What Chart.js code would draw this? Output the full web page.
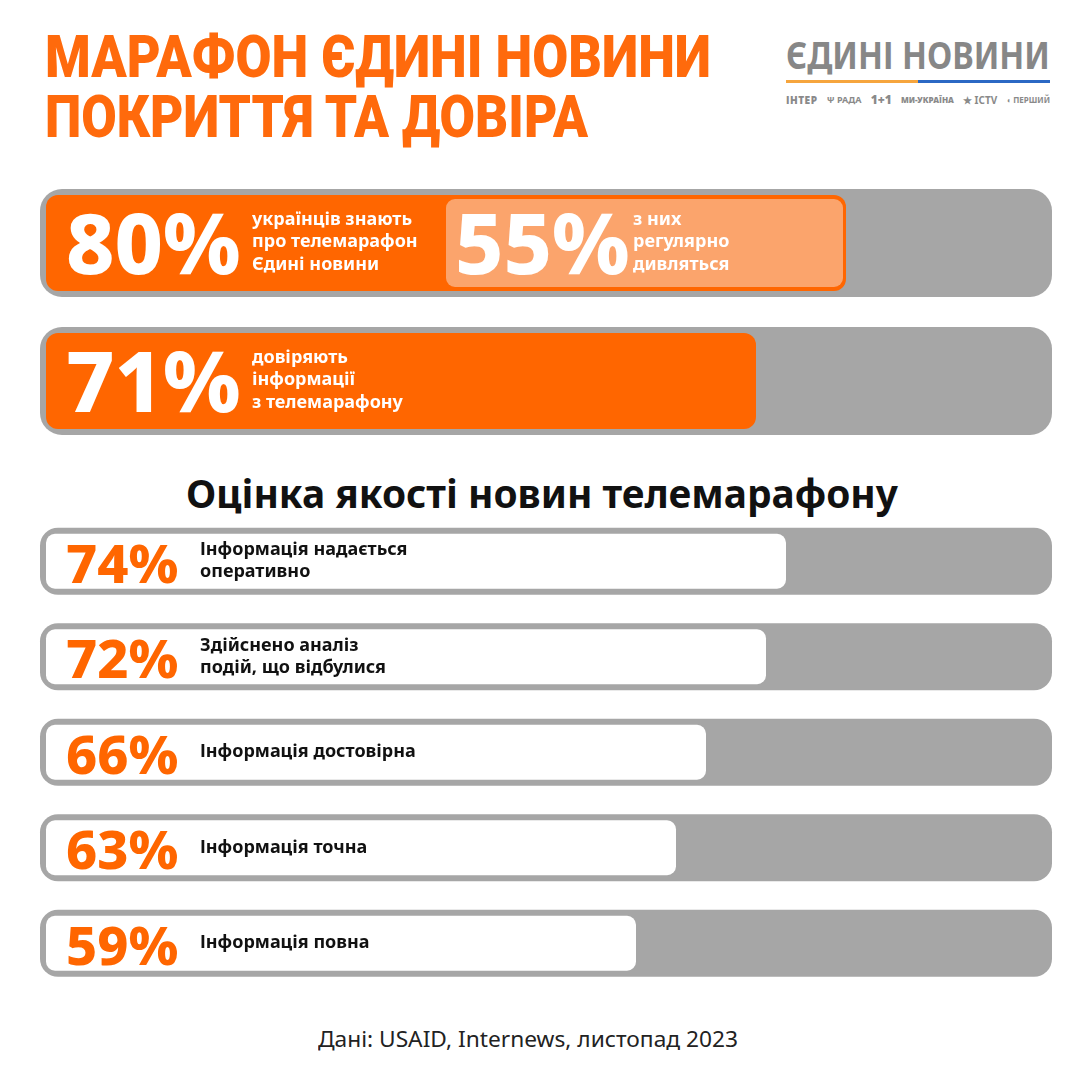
<!DOCTYPE html>
<html lang="uk">
<head>
<meta charset="utf-8">
<title>Марафон Єдині новини</title>
<script src="https://cdn.jsdelivr.net/npm/chart.js@4.4.1/dist/chart.umd.min.js"></script>
<style>
  html, body { margin: 0; padding: 0; }
  body { width: 1080px; height: 1080px; background: #fff; position: relative; overflow: hidden; font-family: "Noto Sans", sans-serif; }
  .fit { display: inline-block; white-space: nowrap; transform-origin: 0 0; }
  #title { position: absolute; left: 45px; top: 27px; color: #ff6a0c; font-family: Roboto, sans-serif; font-weight: 900; font-size: 59px; line-height: 60px; }
  #title .fit { display: block; width: max-content; }
  #logo { position: absolute; left: 786px; top: 30px; width: 264px; }
  #logo .name { color: #878787; font-weight: 700; font-size: 37px; line-height: 50px; }
  #logo .line { height: 3px; background: linear-gradient(to right, #f6a53d 0 50%, #2b68c4 50% 100%); }
  #logo .channels { margin-top: 8px; display: flex; justify-content: space-between; align-items: center; color: #8a8a8a; font-size: 9px; font-weight: 700; white-space: nowrap; }
  #topWrap { position: absolute; left: 0; top: 160px; width: 1080px; height: 300px; }
  #subtitle { position: absolute; left: 186px; top: 467px; font-weight: 700; font-size: 39px; line-height: 52px; color: #111; }
  #qualityWrap { position: absolute; left: 0; top: 500px; width: 1080px; height: 500px; }
  #source { position: absolute; left: 318px; top: 1022px; font-size: 22px; line-height: 32px; color: #222; }
</style>
</head>
<body>
<div id="title"><span class="fit" data-w="666">МАРАФОН ЄДИНІ НОВИНИ</span><span class="fit" data-w="543">ПОКРИТТЯ ТА ДОВІРА</span></div>
<div id="logo">
  <div class="name"><span class="fit" data-w="264">ЄДИНІ НОВИНИ</span></div>
  <div class="line"></div>
  <div class="channels">
    <span style="font-weight:900;font-size:10px;letter-spacing:0.5px">ІНТЕР</span>
    <span>Ψ РАДА</span>
    <span style="font-size:12px;font-weight:900">1+1</span>
    <span style="font-size:8px;font-weight:900">МИ-УКРАЇНА</span>
    <span style="font-size:10px">★ ICTV</span>
    <span style="font-size:8px">◖ ПЕРШИЙ</span>
  </div>
</div>
<div id="topWrap"><canvas id="topChart"></canvas></div>
<div id="subtitle"><span class="fit" data-w="712">Оцінка якості новин телемарафону</span></div>
<div id="qualityWrap"><canvas id="qualityChart"></canvas></div>
<div id="source"><span class="fit" data-w="420">Дані: USAID, Internews, листопад 2023</span></div>

<script>
// values
const topNames = ['знають', 'довіряють'];
const topValues = [80, 71];
const topLabels = [
    ['українців знають', 'про телемарафон', 'Єдині новини'],
    ['довіряють', 'інформації', 'з телемарафону']
];
const watchValue = 55;
const watchRange = [39.7, 80];
const watchLabel = ['з них', 'регулярно', 'дивляться'];

const qualityNames = ['оперативно', 'аналіз', 'достовірна', 'точна', 'повна'];
const qualityValues = [74, 72, 66, 63, 59];
const qualityLabels = [
    ['Інформація надається', 'оперативно'],
    ['Здійснено аналіз', 'подій, що відбулися'],
    ['Інформація достовірна'],
    ['Інформація точна'],
    ['Інформація повна']
];
const fullScale = 100;

const ORANGE = '#ff6600';
const LIGHT_ORANGE = '#fba46c';
const TRACK = '#a6a6a6';
const FONT = '"Noto Sans", sans-serif';

Chart.defaults.font.family = FONT;

// squeeze or stretch headline text to the width it has in the layout
document.querySelectorAll('.fit').forEach(function (el) {
    var target = +el.dataset.w;
    var w = el.getBoundingClientRect().width;
    if (w > 0) el.style.transform = 'scaleX(' + (target / w) + ')';
});

function bigNumber(ctx, text, x, cy, font) {
    ctx.font = font;
    ctx.textAlign = 'left';
    ctx.textBaseline = 'alphabetic';
    var m = ctx.measureText(text);
    ctx.fillText(text, x, cy + m.actualBoundingBoxAscent / 2);
}

function textLines(ctx, lines, x, cy, font, step) {
    ctx.font = font;
    ctx.textAlign = 'left';
    ctx.textBaseline = 'middle';
    var start = cy - (lines.length - 1) * step / 2;
    lines.forEach(function (line, i) {
        ctx.fillText(line, x, start + i * step);
    });
}

const topText = {
    id: 'topText',
    afterDatasetsDraw(chart) {
        const ctx = chart.ctx;
        const x0 = chart.scales.x.left;
        ctx.save();
        ctx.fillStyle = '#fff';
        chart.getDatasetMeta(1).data.forEach(function (bar, i) {
            bigNumber(ctx, topValues[i] + '%', x0 + 20, bar.y, '800 84px ' + FONT);
            textLines(ctx, topLabels[i], x0 + 206, bar.y - 1, '700 18px ' + FONT, 22.5);
        });
        const w = chart.getDatasetMeta(2).data[0];
        const wx = Math.min(w.x, w.base);
        bigNumber(ctx, watchValue + '%', wx + 12, w.y, '800 84px ' + FONT);
        textLines(ctx, watchLabel, wx + 190, w.y - 1, '700 18px ' + FONT, 22.5);
        ctx.restore();
    }
};

const qualityText = {
    id: 'qualityText',
    afterDatasetsDraw(chart) {
        const ctx = chart.ctx;
        const x0 = chart.scales.x.left;
        ctx.save();
        chart.getDatasetMeta(1).data.forEach(function (bar, i) {
            ctx.fillStyle = ORANGE;
            bigNumber(ctx, qualityValues[i] + '%', x0 + 20, bar.y + 2, '800 54px ' + FONT);
            ctx.fillStyle = '#111';
            textLines(ctx, qualityLabels[i], x0 + 154, bar.y, '700 18px ' + FONT, 22);
        });
        ctx.restore();
    }
};

function baseOptions(padding) {
    return {
        indexAxis: 'y',
        responsive: true,
        maintainAspectRatio: false,
        animation: false,
        events: [],
        layout: { padding: padding },
        scales: {
            x: { display: false, min: 0, max: fullScale },
            y: { display: false }
        },
        plugins: { legend: { display: false }, tooltip: { enabled: false } }
    };
}

new Chart(document.getElementById('topChart'), {
    type: 'bar',
    data: {
        labels: topNames,
        datasets: [{
            data: topValues.map(function () { return fullScale; }),
            backgroundColor: TRACK,
            barThickness: 96,
            inflateAmount: 6,
            borderRadius: 22,
            borderSkipped: false,
            grouped: false,
            clip: false,
            order: 3
        }, {
            data: topValues,
            backgroundColor: ORANGE,
            barThickness: 96,
            inflateAmount: 0,
            borderRadius: 12,
            borderSkipped: false,
            grouped: false,
            clip: false,
            order: 2
        }, {
            data: [watchRange, null],
            backgroundColor: LIGHT_ORANGE,
            barThickness: 94,
            inflateAmount: -3,
            borderRadius: 9,
            borderSkipped: false,
            grouped: false,
            clip: false,
            order: 1
        }]
    },
    options: baseOptions({ left: 46, right: 34, top: 14, bottom: 10 }),
    plugins: [topText]
});

new Chart(document.getElementById('qualityChart'), {
    type: 'bar',
    data: {
        labels: qualityNames,
        datasets: [{
            data: qualityValues.map(function () { return fullScale; }),
            backgroundColor: TRACK,
            barThickness: 55,
            inflateAmount: 6,
            borderRadius: 18,
            borderSkipped: false,
            grouped: false,
            clip: false,
            order: 2
        }, {
            data: qualityValues,
            backgroundColor: '#ffffff',
            barThickness: 55,
            inflateAmount: 0,
            borderRadius: 9,
            borderSkipped: false,
            grouped: false,
            clip: false,
            order: 1
        }]
    },
    options: baseOptions({ left: 46, right: 34, top: 13.5, bottom: 9 }),
    plugins: [qualityText]
});
</script>
</body>
</html>
